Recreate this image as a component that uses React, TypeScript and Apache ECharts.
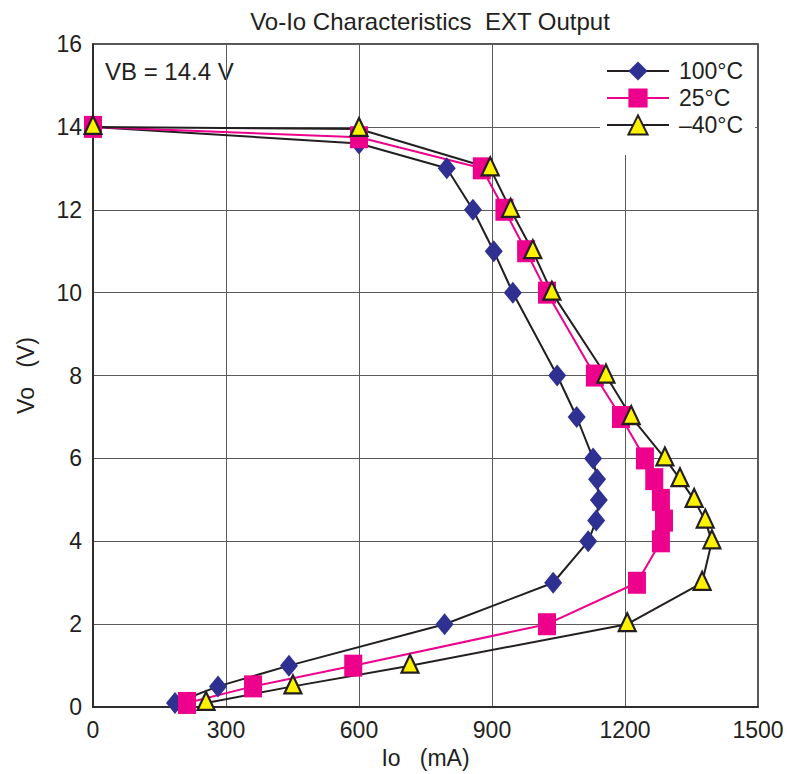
import React, { useEffect, useRef } from "react";
import * as echarts from "echarts";

const xTicks = [0, 300, 600, 900, 1200, 1500];
const yTicks = [0, 2, 4, 6, 8, 10, 12, 14, 16];

const io100 = [0, 600, 798, 857, 904, 947, 1047, 1091, 1128, 1137, 1141, 1135, 1117, 1038, 793, 442, 282, 185];
const vo100 = [14, 13.6, 13, 12, 11, 10, 8, 7, 6, 5.5, 5, 4.5, 4, 3, 2, 1, 0.5, 0.1];

const io25 = [0, 600, 877, 928, 977, 1024, 1132, 1191, 1245, 1266, 1281, 1288, 1281, 1227, 1024, 587, 361, 212];
const vo25 = [14, 13.75, 13, 12, 11, 10, 8, 7, 6, 5.5, 5, 4.5, 4, 3, 2, 1, 0.5, 0.1];

const ioM40 = [0, 600, 896, 942, 992, 1035, 1157, 1214, 1290, 1324, 1356, 1381, 1396, 1374, 1205, 715, 451, 255];
const voM40 = [14, 13.95, 13, 12, 11, 10, 8, 7, 6, 5.5, 5, 4.5, 4, 3, 2, 1, 0.5, 0.1];

const seriesNames = ["100°C", "25°C", "–40°C"];

const pair = (xs: number[], ys: number[]) => xs.map((x, i) => [x, ys[i]]);

const FONT = "Liberation Sans, Arial, sans-serif";
const INK = "#231f20";

export default function App() {
  const ref = useRef<HTMLDivElement>(null);
  useEffect(() => {
    if (!ref.current) return;
    const chart = echarts.init(ref.current, undefined, { renderer: "svg" });
    chart.setOption({
      animation: false,
      backgroundColor: "#fff",
      textStyle: { fontFamily: FONT, color: INK },
      title: {
        text: "Vo-Io Characteristics  EXT Output",
        left: 425,
        textAlign: "center",
        top: 4,
        textStyle: { fontFamily: FONT, fontSize: 24, fontWeight: "normal", color: INK },
      },
      grid: {
        left: 93,
        right: 31,
        top: 44,
        bottom: 60,
        show: true,
        borderColor: INK,
        borderWidth: 1.5,
        backgroundColor: "transparent",
      },
      xAxis: {
        type: "value",
        min: xTicks[0],
        max: xTicks[xTicks.length - 1],
        interval: 300,
        name: "Io   (mA)",
        nameLocation: "middle",
        nameGap: 30,
        nameTextStyle: { fontFamily: FONT, fontSize: 23, color: INK },
        axisLine: { show: true, lineStyle: { color: INK, width: 1.5 } },
        axisTick: { show: false },
        axisLabel: { fontFamily: FONT, fontSize: 23, color: INK, margin: 11, formatter: (v: number) => String(v) },
        splitLine: { show: true, lineStyle: { color: "#5a5a5c", width: 1 } },
      },
      yAxis: {
        type: "value",
        min: yTicks[0],
        max: yTicks[yTicks.length - 1],
        interval: 2,
        name: "Vo   (V)",
        nameLocation: "middle",
        nameGap: 56,
        nameRotate: 90,
        nameTextStyle: { fontFamily: FONT, fontSize: 23, color: INK },
        axisLine: { show: true, lineStyle: { color: INK, width: 1.5 } },
        axisTick: { show: false },
        axisLabel: { fontFamily: FONT, fontSize: 23, color: INK, margin: 11, formatter: (v: number) => String(v) },
        splitLine: { show: true, lineStyle: { color: "#5a5a5c", width: 1 } },
      },
      legend: {
        orient: "vertical",
        left: 600,
        top: 45,
        padding: [14, 12, 18, 6],
        backgroundColor: "#fff",
        itemWidth: 62,
        itemHeight: 24,
        itemGap: 3,
        data: seriesNames,
        textStyle: { fontFamily: FONT, fontSize: 23, color: INK, lineHeight: 24, padding: [0, 0, 0, 5] },
      },
      graphic: [
        {
          type: "text",
          left: 105,
          top: 59,
          style: { text: "VB = 14.4 V", font: `24px ${FONT}`, fill: INK },
        },
      ],
      series: [
        {
          name: seriesNames[0],
          type: "line",
          data: pair(io100, vo100),
          clip: false,
          symbol: "diamond",
          symbolSize: [18, 22],
          lineStyle: { color: INK, width: 2 },
          itemStyle: { color: "#2e3192" },
        },
        {
          name: seriesNames[1],
          type: "line",
          data: pair(io25, vo25),
          clip: false,
          symbol: "rect",
          symbolSize: [18, 22],
          lineStyle: { color: "#ec008c", width: 2 },
          itemStyle: { color: "#ec008c" },
        },
        {
          name: seriesNames[2],
          type: "line",
          data: pair(ioM40, voM40),
          clip: false,
          symbol: "triangle",
          symbolSize: [17, 18],
          symbolOffset: [0, -2],
          lineStyle: { color: INK, width: 2 },
          itemStyle: { color: "#fff200", borderColor: INK, borderWidth: 2.2 },
        },
      ],
    });
    return () => chart.dispose();
  }, []);
  return <div ref={ref} style={{ position: "fixed", left: 0, top: 0, width: 789, height: 774 }} />;
}
